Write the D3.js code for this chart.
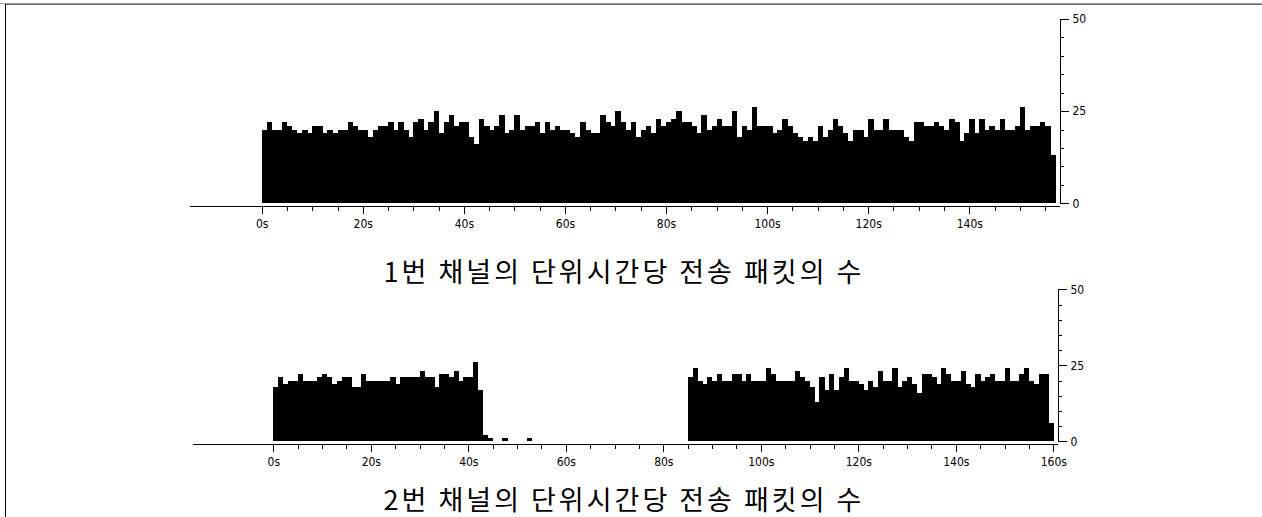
<!DOCTYPE html>
<html>
<head>
<meta charset="utf-8">
<script src="https://cdn.jsdelivr.net/npm/d3@7"></script>
<style>
    body { margin: 0; background: #fff; }
    svg { display: block; }
    .axis text { font-family: 'Liberation Sans Narrow', 'DejaVu Sans Condensed', sans-serif; font-size: 12px; fill: #000; }
    .axis line, .axis path { stroke: #000; shape-rendering: crispEdges; }
    .title { font-family: 'Noto Sans CJK KR', sans-serif; font-size: 27px; letter-spacing: 3px; fill: #000; }
</style>
</head>
<body>
<svg id="chart" width="1262" height="517"></svg>
<script>
// packets per second, channel 1 (0s .. 156s)
const channel1Packets = [
    20, 22, 20, 20, 22, 21, 20, 19, 20, 19, 21, 21, 19, 20, 19, 20, 20, 22, 21, 20,
    20, 18, 20, 21, 21, 22, 20, 22, 20, 18, 22, 23, 20, 22, 25, 19, 22, 24, 21, 22,
    22, 18, 16, 23, 21, 20, 21, 24, 19, 20, 24, 20, 21, 21, 22, 19, 22, 20, 21, 20,
    20, 19, 18, 22, 20, 19, 19, 24, 22, 21, 25, 22, 20, 22, 18, 20, 21, 19, 23, 21,
    22, 23, 25, 22, 22, 21, 19, 24, 20, 21, 23, 21, 21, 25, 18, 21, 20, 26, 21, 21,
    21, 19, 20, 23, 21, 19, 18, 17, 18, 17, 21, 18, 20, 23, 21, 19, 17, 20, 20, 18,
    23, 20, 20, 23, 20, 20, 20, 18, 17, 22, 22, 21, 21, 22, 21, 20, 23, 22, 17, 19,
    23, 19, 23, 20, 21, 20, 23, 20, 20, 21, 26, 20, 21, 21, 22, 21, 13
];

// packets per second, channel 2 (0s .. 159s)
const channel2Packets = [
    18, 21, 19, 20, 20, 22, 20, 20, 20, 21, 22, 21, 19, 20, 21, 21, 18, 18, 22, 20,
    20, 20, 20, 20, 21, 19, 21, 21, 21, 21, 23, 21, 21, 18, 22, 22, 21, 23, 20, 21,
    21, 26, 17, 2, 1, 0, 0, 1, 0, 0, 0, 0, 1, 0, 0, 0, 0, 0, 0, 0,
    0, 0, 0, 0, 0, 0, 0, 0, 0, 0, 0, 0, 0, 0, 0, 0, 0, 0, 0, 0,
    0, 0, 0, 0, 0, 21, 24, 20, 19, 21, 20, 22, 20, 20, 22, 22, 20, 22, 20, 20,
    20, 24, 22, 20, 20, 20, 20, 23, 21, 20, 18, 13, 21, 17, 22, 17, 21, 24, 20, 20,
    19, 17, 20, 18, 23, 20, 20, 24, 18, 20, 21, 19, 16, 22, 22, 21, 19, 24, 22, 20,
    20, 23, 19, 18, 22, 20, 21, 22, 20, 20, 24, 20, 20, 22, 24, 20, 19, 22, 22, 6
];

const yMajorTicks = [0, 25, 50];
const xMajorStep = 20;
const minorStep = 5;

const title1 = '1번 채널의 단위시간당 전송 패킷의 수';
const title2 = '2번 채널의 단위시간당 전송 패킷의 수';

const svg = d3.select('#chart');

// window frame (top / left edge)
svg.append('rect').attr('x', 0).attr('y', 3).attr('width', 1262).attr('height', 1).attr('fill', '#a0a0a0');
svg.append('rect').attr('x', 5).attr('y', 4).attr('width', 1257).attr('height', 1).attr('fill', '#696969');
svg.append('rect').attr('x', 5).attr('y', 4).attr('width', 1).attr('height', 513).attr('fill', '#000');

const drawChannel = function drawChannel(values, opt) {
    const n = values.length;

    const x = d3.scaleLinear()
        .domain([0, opt.xMax])
        .range([opt.x0, opt.x1]);
    const y = d3.scaleLinear()
        .domain([0, 50])
        .range([opt.y0, opt.y1]);

    const g = svg.append('g');

    g.selectAll('.bar')
        .data(values)
        .enter()
    .append('rect')
        .attr('class', 'bar')
        .attr('x', (d, i) => { return x(i) })
        .attr('width', (d, i) => { return x(i + 1) - x(i) + 0.4 })
        .attr('y', (d) => { return y(d) })
        .attr('height', (d) => { return y(0) - y(d) })
        .attr('fill', '#000')
        .attr('shape-rendering', 'crispEdges');

    // x axis runs from the left margin up to the y axis
    const xa = x.copy().domain([x.invert(opt.axisLeft), x.invert(opt.yAxisX)]).range([opt.axisLeft, opt.yAxisX]);
    const lastTick = Math.floor(n / minorStep) * minorStep;

    g.append('g')
        .attr('class', 'axis')
        .attr('transform', 'translate(0,' + opt.axisY + ')')
        .call(d3.axisBottom(xa)
            .tickValues(d3.range(0, lastTick + 1, minorStep))
            .tickSize(5)
            .tickSizeOuter(0)
            .tickFormat(''));

    g.append('g')
        .attr('class', 'axis')
        .attr('transform', 'translate(0,' + opt.axisY + ')')
        .call(d3.axisBottom(xa)
            .tickValues(d3.range(0, lastTick + 1, xMajorStep))
            .tickSize(8)
            .tickSizeOuter(0)
            .tickPadding(6)
            .tickFormat((d) => { return d + 's' }))
        .call((a) => { a.select('.domain').remove() });

    // y axis on the right, ticks pointing outward
    g.append('g')
        .attr('class', 'axis')
        .attr('transform', 'translate(' + opt.yAxisX + ',0)')
        .call(d3.axisRight(y)
            .tickValues(d3.range(0, 51, minorStep))
            .tickSize(4)
            .tickSizeOuter(0)
            .tickFormat(''));

    g.append('g')
        .attr('class', 'axis')
        .attr('transform', 'translate(' + opt.yAxisX + ',0)')
        .call(d3.axisRight(y)
            .tickValues(yMajorTicks)
            .tickSize(9)
            .tickPadding(4)
            .tickFormat((d) => { return d }))
        .call((a) => { a.select('.domain').remove() });

    svg.append('text')
        .attr('class', 'title')
        .attr('x', opt.titleX)
        .attr('y', opt.titleY)
        .attr('text-anchor', 'middle')
        .attr('dominant-baseline', 'central')
        .text(opt.title);
};

drawChannel(channel1Packets, {
    xMax: 157, x0: 261.7, x1: 1055.2,
    y0: 203.3, y1: 19,
    axisY: 205.5, axisLeft: 189, yAxisX: 1059.5,
    title: title1, titleX: 624, titleY: 270
});

drawChannel(channel2Packets, {
    xMax: 160, x0: 273.3, x1: 1053.3,
    y0: 441.3, y1: 289.3,
    axisY: 443.5, axisLeft: 192, yAxisX: 1057.5,
    title: title2, titleX: 624, titleY: 498
});
</script>
</body>
</html>
